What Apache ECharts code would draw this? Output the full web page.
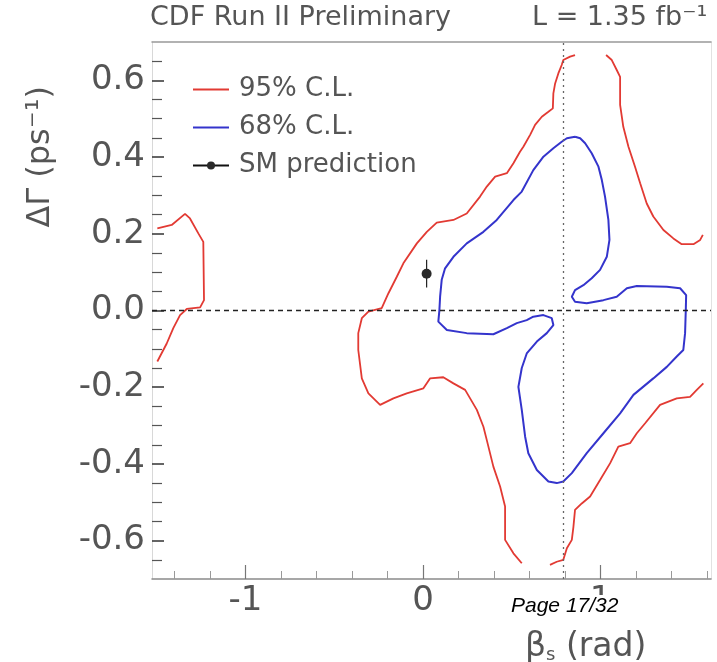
<!DOCTYPE html>
<html>
<head>
<meta charset="utf-8">
<script src="https://cdn.jsdelivr.net/npm/echarts@6/dist/echarts.min.js"></script>
<style>
  html, body { margin: 0; padding: 0; background: #fff; }
  #chart { width: 717px; height: 662px; }
</style>
</head>
<body>
<div id="chart"></div>
<script>
// Axis ranges (beta_s in rad, Delta Gamma in ps^-1)
const xRange = [-1.527, 1.622];
const yRange = [-0.7, 0.7];

// Tick positions and labels
const xTickLabels = [-1, 0, 1];
const xMinorTicks = [-1.4, -1.2, -0.8, -0.6, -0.4, -0.2, 0.2, 0.4, 0.6, 0.8, 1.2, 1.4, 1.6];
const yTickLabels = [-0.6, -0.4, -0.2, 0, 0.2, 0.4, 0.6];
const yMinorTicks = [-0.65, -0.55, -0.5, -0.45, -0.35, -0.3, -0.25, -0.15, -0.1, -0.05,
                     0.05, 0.1, 0.15, 0.25, 0.3, 0.35, 0.45, 0.5, 0.55, 0.65];

// 95% C.L. contour, left island
const cl95Left = [
  [-1.497, 0.214], [-1.416, 0.223], [-1.341, 0.252], [-1.313, 0.240], [-1.266, 0.201],
  [-1.238, 0.179], [-1.234, 0.027], [-1.256, 0.008], [-1.331, 0.004], [-1.369, -0.012],
  [-1.407, -0.046], [-1.444, -0.086], [-1.497, -0.133]
];

// 95% C.L. contour, main region: upper-left branch down to the lower-left branch
const cl95Main = [
  [0.856, 0.666], [0.828, 0.662], [0.790, 0.653], [0.781, 0.640], [0.762, 0.618],
  [0.744, 0.592], [0.734, 0.566], [0.731, 0.527], [0.706, 0.518], [0.669, 0.505],
  [0.631, 0.484], [0.603, 0.458], [0.565, 0.427], [0.546, 0.414], [0.509, 0.384],
  [0.472, 0.358], [0.406, 0.349], [0.359, 0.323], [0.321, 0.297], [0.246, 0.253],
  [0.171, 0.236], [0.077, 0.229], [0.021, 0.205], [-0.035, 0.175], [-0.111, 0.123],
  [-0.148, 0.088], [-0.195, 0.045], [-0.233, 0.006], [-0.308, -0.003], [-0.345, -0.020],
  [-0.365, -0.059], [-0.365, -0.103], [-0.345, -0.177], [-0.308, -0.216], [-0.242, -0.246],
  [-0.167, -0.229], [-0.092, -0.216], [0.002, -0.203], [0.039, -0.177], [0.114, -0.174],
  [0.171, -0.190], [0.237, -0.207], [0.303, -0.259], [0.340, -0.303], [0.359, -0.338],
  [0.396, -0.407], [0.434, -0.459], [0.462, -0.511], [0.462, -0.598], [0.509, -0.633],
  [0.556, -0.659]
];

// 95% C.L. contour, lower-right branch
const cl95LowerRight = [
  [0.715, -0.663], [0.753, -0.655], [0.790, -0.650], [0.810, -0.620], [0.838, -0.598],
  [0.847, -0.564], [0.856, -0.520], [0.894, -0.503], [0.941, -0.485], [0.997, -0.442],
  [1.054, -0.398], [1.100, -0.355], [1.166, -0.346], [1.204, -0.320], [1.251, -0.294],
  [1.335, -0.246], [1.429, -0.229], [1.504, -0.225], [1.542, -0.207], [1.579, -0.190]
];

// 95% C.L. contour, upper-right branch
const cl95UpperRight = [
  [1.576, 0.197], [1.561, 0.184], [1.523, 0.173], [1.457, 0.173], [1.410, 0.188],
  [1.354, 0.210], [1.297, 0.245], [1.260, 0.279], [1.223, 0.332], [1.194, 0.375],
  [1.157, 0.427], [1.128, 0.479], [1.110, 0.536], [1.110, 0.609], [1.091, 0.627],
  [1.063, 0.653], [1.031, 0.666]
];

// 68% C.L. contour (closed)
const cl68 = [
  [0.856, 0.453], [0.810, 0.449], [0.781, 0.440], [0.734, 0.423], [0.678, 0.401],
  [0.621, 0.366], [0.556, 0.310], [0.509, 0.288], [0.415, 0.236], [0.340, 0.205],
  [0.246, 0.175], [0.171, 0.140], [0.124, 0.110], [0.105, 0.080], [0.096, 0.036],
  [0.092, 0.001], [0.086, -0.029], [0.134, -0.051], [0.246, -0.059], [0.396, -0.062],
  [0.472, -0.046], [0.528, -0.033], [0.584, -0.025], [0.621, -0.016], [0.678, -0.012],
  [0.725, -0.020], [0.734, -0.038], [0.697, -0.059], [0.641, -0.081], [0.584, -0.112],
  [0.556, -0.150], [0.537, -0.199], [0.556, -0.259], [0.575, -0.329], [0.593, -0.372],
  [0.641, -0.416], [0.706, -0.446], [0.753, -0.450], [0.790, -0.446], [0.838, -0.424],
  [0.922, -0.372], [1.016, -0.320], [1.110, -0.268], [1.185, -0.220], [1.297, -0.177],
  [1.373, -0.147], [1.429, -0.120], [1.466, -0.103], [1.476, -0.059], [1.480, 0.001],
  [1.482, 0.040], [1.448, 0.058], [1.373, 0.062], [1.204, 0.064], [1.148, 0.058],
  [1.091, 0.036], [1.016, 0.027], [0.922, 0.019], [0.856, 0.023], [0.838, 0.036],
  [0.856, 0.053], [0.903, 0.066], [0.950, 0.084], [0.997, 0.106], [1.035, 0.140],
  [1.050, 0.184], [1.044, 0.236], [1.025, 0.297], [1.007, 0.340], [0.988, 0.375],
  [0.950, 0.410], [0.913, 0.436], [0.885, 0.449], [0.856, 0.453]
];

// Standard Model expectation with its uncertainty on Delta Gamma
const smPoint = [0.02, 0.096];
const smError = 0.036;

// Reference lines
const zeroDeltaGamma = 0;
const quarterPiBeta = 0.785;

const RED = '#e23a33';
const BLUE = '#3434cc';
const TEXT = '#555';
const FONT = 'DejaVu Sans';
// flat bar used as the legend key of the contour lines
const LINE_KEY = 'path://M0,0H36V2H0Z';

const chart = echarts.init(document.getElementById('chart'), null, { renderer: 'canvas' });

function contour(name, data, color, width) {
  return {
    type: 'line', name: name, data: data,
    symbol: 'none', smooth: false, silent: true, animation: false,
    lineStyle: { color: color, width: width }, itemStyle: { color: color },
    z: 3
  };
}

function hiddenAxis(extra) {
  return Object.assign({
    type: 'value',
    axisLine: { show: false, onZero: false },
    axisTick: { show: false }, axisLabel: { show: false }, splitLine: { show: false }
  }, extra);
}

const option = {
  animation: false,
  backgroundColor: '#fff',
  title: [
    { text: 'CDF Run II Preliminary', left: 150, top: 4, padding: 0,
      textStyle: { fontFamily: FONT, fontSize: 27, fontWeight: 'normal', color: TEXT } },
    { text: 'L = 1.35 fb⁻¹', left: 532, top: 4, padding: 0,
      textStyle: { fontFamily: FONT, fontSize: 27, fontWeight: 'normal', color: TEXT } },
    { text: 'Page 17/32', left: 509, top: 595, padding: [1, 2, 2, 2], backgroundColor: '#fff',
      textStyle: { fontFamily: 'Liberation Sans', fontStyle: 'italic', fontSize: 21,
                   fontWeight: 'normal', color: '#000' } }
  ],
  legend: {
    data: [
      { name: '95% C.L.', icon: LINE_KEY },
      { name: '68% C.L.', icon: LINE_KEY },
      { name: 'SM prediction' }
    ],
    orient: 'vertical', left: 187, top: 71,
    itemWidth: 36, itemHeight: 10, itemGap: 11,
    selectedMode: false,
    textStyle: { fontFamily: FONT, fontSize: 26, color: TEXT, lineHeight: 27, padding: [0, 0, 0, 5] }
  },
  grid: { left: 152, right: 6, top: 42, bottom: 83, containLabel: false },
  xAxis: [
    {
      type: 'value', min: xRange[0], max: xRange[1], position: 'bottom',
      axisLine: { show: true, onZero: false, lineStyle: { color: '#8a8a8a', width: 1.5 } },
      axisTick: { show: true, inside: true, length: 14, customValues: xTickLabels,
                  lineStyle: { color: '#777', width: 1.2 } },
      axisLabel: { customValues: xTickLabels, margin: 5, fontFamily: FONT, fontSize: 34,
                   color: TEXT, formatter: v => String(v) },
      splitLine: { show: false }
    },
    hiddenAxis({
      min: xRange[0], max: xRange[1], position: 'bottom',
      axisTick: { show: true, inside: true, length: 8, customValues: xMinorTicks,
                  lineStyle: { color: '#999', width: 1 } }
    }),
    hiddenAxis({
      min: xRange[0], max: xRange[1], position: 'top',
      axisLine: { show: true, onZero: false, lineStyle: { color: '#999', width: 1.5 } }
    })
  ],
  yAxis: [
    {
      type: 'value', min: yRange[0], max: yRange[1], position: 'left',
      axisLine: { show: true, onZero: false, lineStyle: { color: '#d8d8d8', width: 1 } },
      axisTick: { show: true, inside: true, length: 12, customValues: yTickLabels,
                  lineStyle: { color: '#333', width: 1.5 } },
      axisLabel: { customValues: yTickLabels, margin: 7, fontFamily: FONT, fontSize: 34,
                   color: TEXT, formatter: v => v.toFixed(1) },
      splitLine: { show: false }
    },
    hiddenAxis({
      min: yRange[0], max: yRange[1], position: 'left',
      axisTick: { show: true, inside: true, length: 10, customValues: yMinorTicks,
                  lineStyle: { color: '#555', width: 1.2 } }
    }),
    hiddenAxis({
      min: yRange[0], max: yRange[1], position: 'right',
      axisLine: { show: true, onZero: false, lineStyle: { color: '#e2e2e2', width: 1 } }
    })
  ],
  graphic: [
    {
      type: 'text', left: 25, top: 86, rotation: Math.PI / 2,
      style: { text: 'ΔΓ (ps⁻¹)', fontFamily: FONT, fontSize: 32, fill: TEXT }
    },
    {
      type: 'text', left: 525, top: 631,
      style: {
        text: '{b|β}{s|s}{b| (rad)}',
        rich: {
          b: { fontFamily: FONT, fontSize: 33, fill: TEXT, color: TEXT },
          s: { fontFamily: FONT, fontSize: 18, fill: TEXT, color: TEXT, verticalAlign: 'bottom', padding: [15, 0, 0, 0] }
        }
      }
    }
  ],
  series: [
    contour('95% C.L.', cl95Left, RED, 1.8),
    contour('95% C.L.', cl95Main, RED, 1.8),
    contour('95% C.L.', cl95LowerRight, RED, 1.8),
    contour('95% C.L.', cl95UpperRight, RED, 1.8),
    contour('68% C.L.', cl68, BLUE, 2),
    {
      // uncertainty bar of the SM expectation, plus the reference lines
      type: 'line', silent: true, symbol: 'none',
      data: [[smPoint[0], smPoint[1] - smError], [smPoint[0], smPoint[1] + smError]],
      lineStyle: { color: '#222', width: 1.2 },
      markLine: {
        silent: true, symbol: 'none', label: { show: false },
        data: [
          { yAxis: zeroDeltaGamma, lineStyle: { color: '#222', type: [5, 4], width: 1.3 } },
          { xAxis: quarterPiBeta, lineStyle: { color: '#666', type: [2, 4], width: 1.3 } }
        ]
      },
      z: 2
    },
    {
      type: 'line', name: 'SM prediction', data: [smPoint],
      symbol: 'circle', symbolSize: 10, showSymbol: true,
      itemStyle: { color: '#2a2a2a' }, lineStyle: { color: '#111', width: 1.5 },
      z: 4
    }
  ]
};

chart.setOption(option);
</script>
</body>
</html>
